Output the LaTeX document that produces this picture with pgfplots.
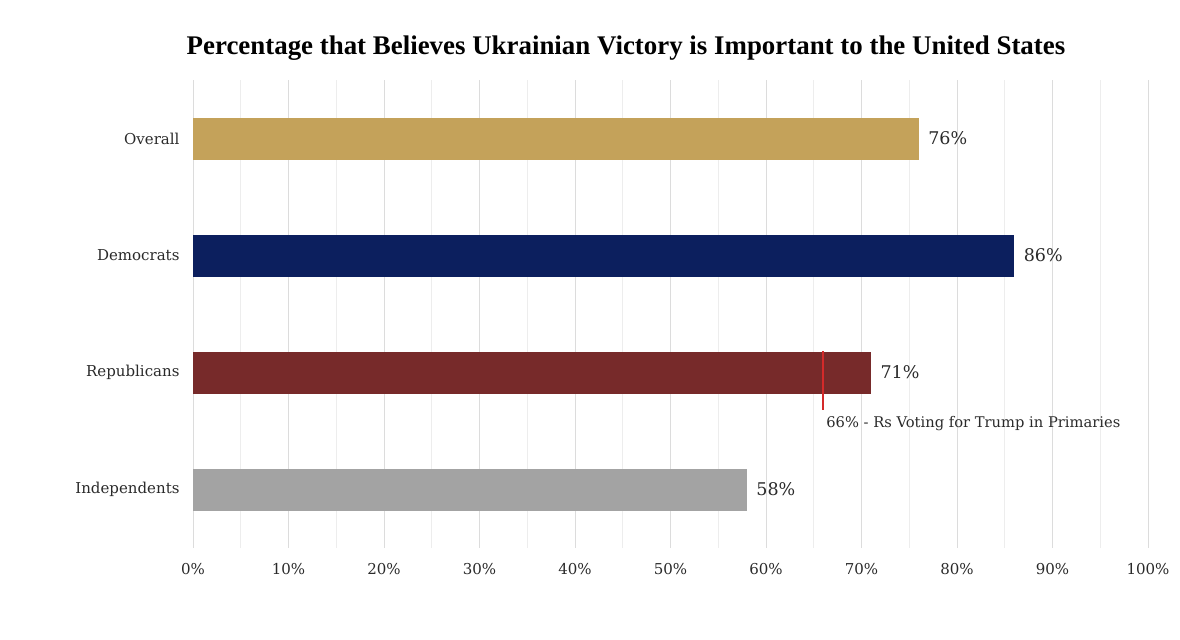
\documentclass[border=0pt]{standalone}
\usepackage{pgfplots}
\pgfplotsset{compat=1.18}
\usepackage{fontspec}
\setmainfont{DejaVu Serif}
\newfontfamily\titlefont{Liberation Serif}
\definecolor{cgold}{HTML}{C4A25A}
\definecolor{cnavy}{HTML}{0C1F5E}
\definecolor{cmaroon}{HTML}{772A2A}
\definecolor{cgray}{HTML}{A3A3A3}
\definecolor{cred}{HTML}{D42A2A}
\definecolor{gridmaj}{HTML}{DCDCDC}
\definecolor{gridmin}{HTML}{EDEDED}
\definecolor{txt}{HTML}{2A2A2A}
\begin{document}
\begin{tikzpicture}
\path[use as bounding box] (-193bp,-92bp) rectangle (987bp,548bp);
\begin{axis}[
  at={(0,0)}, anchor=south west,
  scale only axis, width=955bp, height=468bp,
  xmin=0, xmax=100, ymin=-0.5, ymax=3.5,
  y dir=reverse,
  axis line style={draw=none},
  xtick={0,10,...,100}, minor x tick num=1,
  xmajorgrids, xminorgrids,
  major grid style={gridmaj, line width=0.8bp},
  minor grid style={gridmin, line width=0.8bp},
  major tick length=0pt, minor tick length=0pt,
  ytick={0,1,2,3},
  yticklabels={Overall,Democrats,Republicans,Independents},
  /pgf/number format/assume math mode=true,
  xticklabel={\pgfmathprintnumber{\tick}\%},
  xticklabel style={font=\fontsize{15bp}{17bp}\selectfont, text=txt, yshift=-12bp},
  yticklabel style={font=\fontsize{15bp}{17bp}\selectfont, text=txt, xshift=-10bp},
  mybar/.style={xbar, bar width=42bp, bar shift=0pt, draw=none,
    point meta=x,
    nodes near coords={\pgfmathprintnumber{\pgfplotspointmeta}\%},
    every node near coord/.append style={anchor=west, xshift=6bp, font=\fontsize{17.5bp}{19bp}\selectfont, text=txt}},
  clip=false,
]
\addplot[mybar, fill=cgold] coordinates {(76,0)};
\addplot[mybar, fill=cnavy] coordinates {(86,1)};
\addplot[mybar, fill=cmaroon] coordinates {(71,2)};
\addplot[mybar, fill=cgray] coordinates {(58,3)};
\addplot[sharp plot, draw=cred, color=cred, line width=2bp, mark=none, forget plot] coordinates {(66,1.82) (66,2.32)};
\node[anchor=west, font=\fontsize{14.7bp}{16bp}\selectfont, text=txt, inner sep=0pt] at (axis cs:66.3,2.44) {66\% - Rs Voting for Trump in Primaries};
\end{axis}
\node[font=\titlefont\bfseries\fontsize{26.9bp}{30bp}\selectfont, text=black] at (433bp,500bp) {Percentage that Believes Ukrainian Victory is Important to the United States};
\end{tikzpicture}
\end{document}
